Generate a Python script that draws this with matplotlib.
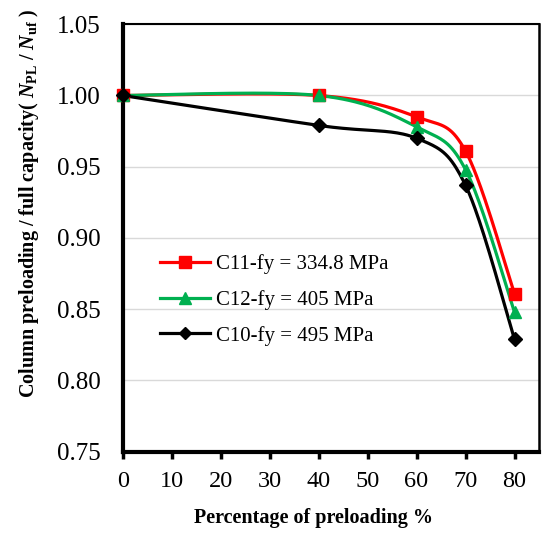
import matplotlib
matplotlib.use("Agg")
import matplotlib.pyplot as plt
import numpy as np

# fonts: Times-like serif everywhere
plt.rcParams["font.family"] = "Liberation Serif"
plt.rcParams["mathtext.fontset"] = "custom"
plt.rcParams["mathtext.rm"] = "Liberation Serif:bold"
plt.rcParams["mathtext.it"] = "Liberation Serif:bold:italic"
plt.rcParams["mathtext.bf"] = "Liberation Serif:bold"

#* Data
preload = [0, 40, 60, 70, 80]
c11 = [1.000, 1.000, 0.985, 0.961, 0.861]
c12 = [1.000, 1.000, 0.978, 0.948, 0.848]
c10 = [1.000, 0.979, 0.970, 0.937, 0.829]

labels = ["C11-fy = 334.8 MPa", "C12-fy = 405 MPa", "C10-fy = 495 MPa"]
colors = ["#ff0000", "#00b050", "#000000"]
markers = ["s", "^", "D"]
xticks = [0, 10, 20, 30, 40, 50, 60, 70, 80]
yticks = [0.75, 0.80, 0.85, 0.90, 0.95, 1.00, 1.05]


def smooth(xs, ys, n=40):
    # Excel style smoothed line (Catmull-Rom through bezier segments)
    x = np.array(xs, dtype=float)
    y = np.array(ys, dtype=float)
    px = np.concatenate([[x[0]], x, [x[-1]]])
    py = np.concatenate([[y[0]], y, [y[-1]]])
    t = np.linspace(0, 1, n)
    outx, outy = [], []
    for i in range(1, len(px) - 2):
        p0 = np.array([px[i], py[i]])
        p3 = np.array([px[i + 1], py[i + 1]])
        c1 = p0 + (np.array([px[i + 1], py[i + 1]]) - np.array([px[i - 1], py[i - 1]])) / 6
        c2 = p3 - (np.array([px[i + 2], py[i + 2]]) - np.array([px[i], py[i]])) / 6
        b = ((1 - t) ** 3)[:, None] * p0 + (3 * (1 - t) ** 2 * t)[:, None] * c1 \
            + (3 * (1 - t) * t ** 2)[:, None] * c2 + (t ** 3)[:, None] * p3
        outx.extend(b[:, 0])
        outy.extend(b[:, 1])
    return outx, outy


fig = plt.figure(figsize=(5.5, 5.39), dpi=100)
ax = fig.add_axes([0.223, 0.162, 0.757, 0.793])

for ys, lab, col, mk in zip([c11, c12, c10], labels, colors, markers):
    sx, sy = smooth(preload, ys)
    ax.plot(sx, sy, color=col, lw=2.3, zorder=3)
    ax.plot(preload, ys, color=col, lw=0, marker=mk, markersize=9 if mk != "D" else 7.5,
            zorder=4, clip_on=False)
    # proxy for legend
    ax.plot([], [], color=col, lw=2.3, marker=mk, markersize=8 if mk != "D" else 6.5, label=lab)

ax.set_xlim(0, 85)
ax.set_ylim(0.75, 1.05)
ax.set_xticks(xticks)
ax.set_yticks(yticks)
ax.set_yticklabels([f"{v:.2f}" for v in yticks])
ax.tick_params(axis="x", direction="out", length=5, width=2.5, labelsize=17.5, pad=9)
ax.tick_params(axis="y", length=0, labelsize=18, pad=16)
ax.yaxis.grid(True, color="#d9d9d9", lw=1)
ax.set_axisbelow(True)

ax.spines["left"].set_linewidth(3)
ax.spines["bottom"].set_linewidth(3)
ax.spines["top"].set_linewidth(1.5)
ax.spines["right"].set_linewidth(1.8)

leg = ax.legend(loc="upper left", bbox_to_anchor=(0.045, 0.505), frameon=False,
                fontsize=15, handlelength=2.4, labelspacing=0.75, handletextpad=0.3)

fig.text(0.57, 0.039, "Percentage of preloading %", ha="center", va="center",
         fontsize=14.5, fontweight="bold")
fig.text(0.052, 0.623, r"Column preloading / full capacity( $N_{\rm PL}$ / $N_{\rm uf}$ )",
         rotation=90, ha="center", va="center", fontsize=14.5, fontweight="bold")

fig.savefig("out.png", dpi=100)
